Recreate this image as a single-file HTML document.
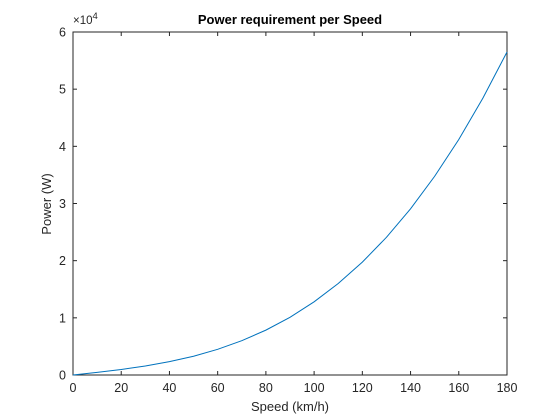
<!DOCTYPE html>
<html><head><meta charset="utf-8"><style>
body{margin:0;background:#fff;}
svg{display:block;font-family:"Liberation Sans",Arial,sans-serif;}
</style></head><body>
<svg id="chart" width="560" height="420" viewBox="0 0 560 420" xmlns="http://www.w3.org/2000/svg">
<rect x="0" y="0" width="560" height="420" fill="#fff"/>
<rect x="73" y="32" width="434" height="343" fill="#fff" stroke="#262626" stroke-width="1"/>
<g id="xticks"></g>
<g id="yticks"></g>
<polyline id="line" fill="none" stroke="#0072BD" stroke-width="1"/>
<text x="290" y="24" text-anchor="middle" font-size="13" font-weight="bold" fill="#000">Power requirement per Speed</text>
<text x="290" y="411" text-anchor="middle" font-size="13" fill="#262626">Speed (km/h)</text>
<text transform="translate(51,204) rotate(-90)" text-anchor="middle" font-size="13" fill="#262626">Power (W)</text>
<text x="73" y="24" font-size="11.5" fill="#262626">×10<tspan dy="-5" font-size="9.5">4</tspan></text>
</svg>
<script>
const speeds=[0,10,20,30,40,50,60,70,80,90,100,110,120,130,140,150,160,170,180];
const power=[0,458,966,1574,2331,3288,4493,5997,7850,10101,12800,15997,19742,24085,29075,34763,41197,48428,56500];
const xTicks=[0,20,40,60,80,100,120,140,160,180];
const yTicks=[0,1,2,3,4,5,6];
const L=73,R=507,T=32,B=375;
const xs=v=>L+(v-0)/(180-0)*(R-L);
const ys=v=>B-(v-0)/(60000-0)*(B-T);
const NS="http://www.w3.org/2000/svg";
const xg=document.getElementById('xticks'),yg=document.getElementById('yticks');
function mk(t,a){const e=document.createElementNS(NS,t);for(const k in a)e.setAttribute(k,a[k]);return e;}
xTicks.forEach(t=>{const x=xs(t);
 const l=mk('line',{x1:x,x2:x,y1:B,y2:B-4,stroke:'#262626'});
 
 
 xg.appendChild(l);
 const l2=mk('line',{x1:x,x2:x,y1:T,y2:T+4,stroke:'#262626'});
 
 
 xg.appendChild(l2);
 const tx=mk('text',{x:x,y:B+17,'text-anchor':'middle','font-size':'12.5',fill:'#262626'});
 
 
 tx.textContent=t;xg.appendChild(tx);});
yTicks.forEach(t=>{const y=ys(t*10000);
 const l=mk('line',{x1:L,x2:L+4,y1:y,y2:y,stroke:'#262626'});
 
 
 yg.appendChild(l);
 const l2=mk('line',{x1:R,x2:R-4,y1:y,y2:y,stroke:'#262626'});
 
 
 yg.appendChild(l2);
 const tx=mk('text',{x:L-7,y:y+4.5,'text-anchor':'end','font-size':'12.5',fill:'#262626'});
 
 
 tx.textContent=t;yg.appendChild(tx);});
document.getElementById('line').setAttribute('points',speeds.map((s,i)=>xs(s)+','+ys(power[i])).join(' '));
</script>
</body></html>
